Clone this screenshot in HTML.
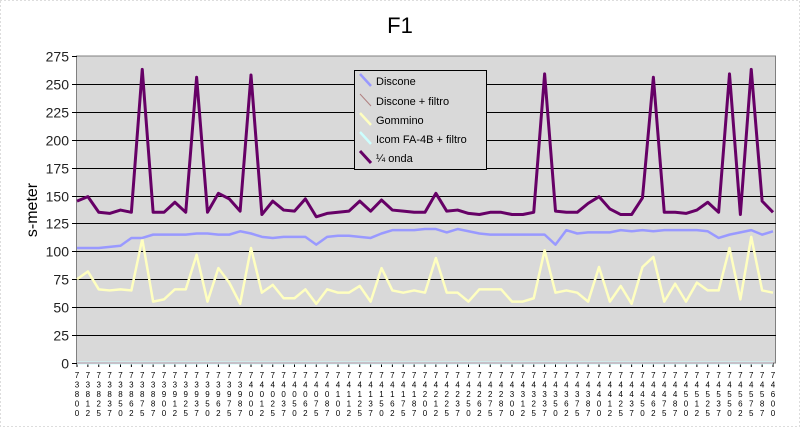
<!DOCTYPE html>
<html><head><meta charset="utf-8"><style>
body{margin:0;background:#fff;}
svg{display:block;font-family:"Liberation Sans",Arial,sans-serif;}
</style></head><body>
<svg id="chart" width="800" height="427" viewBox="0 0 800 427">
<rect x="0.5" y="0.5" width="799" height="426" fill="#fff" stroke="#bbb" stroke-dasharray="1,3"/>
<text x="400" y="33" text-anchor="middle" font-size="22" fill="#000">F1</text>
<text transform="translate(37,210) rotate(-90)" text-anchor="middle" font-size="16" fill="#000">s-meter</text>
<rect x="76.5" y="56" width="699" height="307" fill="#d9d9d9" stroke="#808080" stroke-width="1"/>
<g id="grid"></g><g id="yticks"></g><g id="xticks"></g><g id="series"></g>
<g>
<rect x="354.5" y="70.5" width="132" height="99" fill="#d9d9d9" stroke="#000"/>
<g><line x1="360" y1="74" x2="371" y2="86" stroke="#9999ff" stroke-width="2.5"/><text x="376" y="85" font-size="11">Discone</text></g>
<g><line x1="360" y1="94" x2="371" y2="106" stroke="#b08080" stroke-width="1"/><text x="376" y="105" font-size="11">Discone + filtro</text></g>
<g><line x1="360" y1="113" x2="371" y2="125" stroke="#ffffc0" stroke-width="2.5"/><text x="376" y="124" font-size="11">Gommino</text></g>
<g><line x1="360" y1="132" x2="371" y2="144" stroke="#ccffff" stroke-width="2.5"/><text x="376" y="143" font-size="11">Icom FA-4B + filtro</text></g>
<g><line x1="360" y1="151" x2="371" y2="163" stroke="#660066" stroke-width="3"/><text x="376" y="162" font-size="11">¼ onda</text></g>
</g>
</svg>
<script>
const categories=["73800","73812","73825","73837","73850","73862","73875","73887","73900","73912","73925","73937","73950","73962","73975","73987","74000","74012","74025","74037","74050","74062","74075","74087","74100","74112","74125","74137","74150","74162","74175","74187","74200","74212","74225","74237","74250","74262","74275","74287","74300","74312","74325","74337","74350","74362","74375","74387","74400","74412","74425","74437","74450","74462","74475","74487","74500","74512","74525","74537","74550","74562","74575","74587","74600"];
const discone=[103,103,103,104,105,112,112,115,115,115,115,116,116,115,115,118,116,113,112,113,113,113,106,113,114,114,113,112,116,119,119,119,120,120,117,120,118,116,115,115,115,115,115,115,106,119,116,117,117,117,119,118,119,118,119,119,119,119,118,112,115,117,119,115,118];
const disconeFiltro=Array(65).fill(0);
const gommino=[75,82,66,65,66,65,111,55,57,66,66,97,55,85,72,53,103,63,70,58,58,66,53,66,63,63,69,55,85,65,63,65,63,94,63,63,55,66,66,66,55,55,58,101,63,65,63,55,86,55,69,53,86,95,55,71,55,72,65,65,103,57,113,65,63];
const icom=Array(65).fill(0);
const quarto=[145,149,135,134,137,135,263,135,135,144,135,256,135,152,147,136,258,133,145,137,136,147,131,134,135,136,145,136,146,137,136,135,135,152,136,137,134,133,135,135,133,133,135,259,136,135,135,143,149,138,133,133,148,256,135,135,134,137,144,135,259,133,263,145,135];
const yTicks=[0,25,50,75,100,125,150,175,200,225,250,275];
const NS="http://www.w3.org/2000/svg";
const X0=77,X1=773,Y0=363,Y1=56,YMAX=275;
function xs(i){return X0+(X1-X0)*i/(categories.length-1);}
function ys(v){return Y0-(Y0-Y1)*v/YMAX;}
function mk(tag,attrs,parent){const e=document.createElementNS(NS,tag);for(const k in attrs)e.setAttribute(k,attrs[k]);parent.appendChild(e);return e;}
const grid=document.getElementById('grid'),yt=document.getElementById('yticks'),xt=document.getElementById('xticks'),sg=document.getElementById('series');
yTicks.forEach(v=>{
 const y=Math.round(ys(v))+0.5;
 if(v>0&&v<275){const g=mk('line',{x1:77,x2:776,y1:y,y2:y,stroke:'#000','stroke-width':1},grid);
 
 }
 const t=mk('line',{x1:72,x2:77,y1:y,y2:y,stroke:'#000'},yt);
 
 
 const l=mk('text',{x:69,y:y+5,'text-anchor':'end','font-size':14,fill:'#222'},yt);
 
 
 l.textContent=v;
});
categories.forEach((c,i)=>{
 const x=xs(i);
 const t=mk('line',{x1:x,x2:x,y1:363,y2:367,stroke:'#000'},xt);
 
 
 const tx=mk('text',{x:x,'text-anchor':'middle','font-size':8,fill:'#000'},xt);
 
 
 for(let k=0;k<c.length;k++){const s=mk('tspan',{x:x,y:378+k*9.5},tx);s.textContent=c[k];}
});
function line(data,color,w,name){
 const p=mk('polyline',{points:data.map((v,i)=>xs(i)+','+ys(v)).join(' '),fill:'none',stroke:color,'stroke-width':w,'stroke-linejoin':'round'},sg);
 
 
}
line(icom,'#ccffff',3,'series-icom-fa4b-filtro');
line(disconeFiltro,'#c08090',1,'series-discone-filtro');
line(gommino,'#ffffc0',2.5,'series-gommino');
line(discone,'#9999ff',2.5,'series-discone');
line(quarto,'#660066',3,'series-quarto-onda');
</script>
</body></html>
